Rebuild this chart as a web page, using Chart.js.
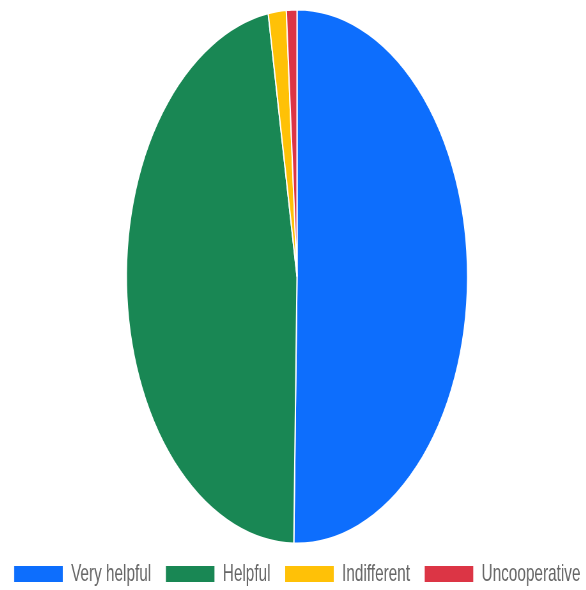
<!DOCTYPE html>
<html>
<head>
<meta charset="utf-8">
<script src="https://cdn.jsdelivr.net/npm/chart.js@4.4.1/dist/chart.umd.min.js"></script>
<style>
    html, body { margin: 0; padding: 0; background: #fff; overflow: hidden; }
    /* el original está aplastado en horizontal, por eso el scaleX */
    #contenedor {
        position: absolute;
        left: 4px;
        top: 0;
        width: 917px;
        height: 596px;
        transform: scaleX(0.639);
        transform-origin: 0 0;
    }
</style>
</head>
<body>
<div id="contenedor">
    <canvas id="graficoOpiniones"></canvas>
</div>
<script>
const categorias = ['Very helpful', 'Helpful', 'Indifferent', 'Uncooperative'];
const valores = [50.3, 47.0, 1.7, 1.0];
const colores = ['#0d6efd', '#198754', '#ffc107', '#dc3545'];

const ctx = document.getElementById('graficoOpiniones').getContext('2d');

const chart = new Chart(ctx, {
    type: 'pie',
    data: {
        labels: categorias,
        datasets: [{
            data: valores,
            backgroundColor: colores,
            borderColor: '#fff',
            borderWidth: 2,
            radius: 267
        }]
    },
    options: {
        responsive: true,
        maintainAspectRatio: false,
        animation: false,
        layout: {
            padding: { top: 1 }
        },
        plugins: {
            tooltip: { enabled: false },
            legend: {
                position: 'bottom',
                labels: {
                    boxWidth: 78,
                    boxHeight: 18,
                    padding: 10,
                    color: '#666',
                    font: { family: "'Liberation Sans', Arial, sans-serif", size: 24 },
                    generateLabels: function (chart) {
                        const items = Chart.overrides.doughnut.plugins.legend.labels.generateLabels(chart);
                        // un poco más de aire entre una entrada y la siguiente
                        items.forEach((item, i) => {
                            if (i < items.length - 1) item.text += '\u2002';
                        });
                        return items;
                    }
                }
            }
        }
    }
});
</script>
</body>
</html>
